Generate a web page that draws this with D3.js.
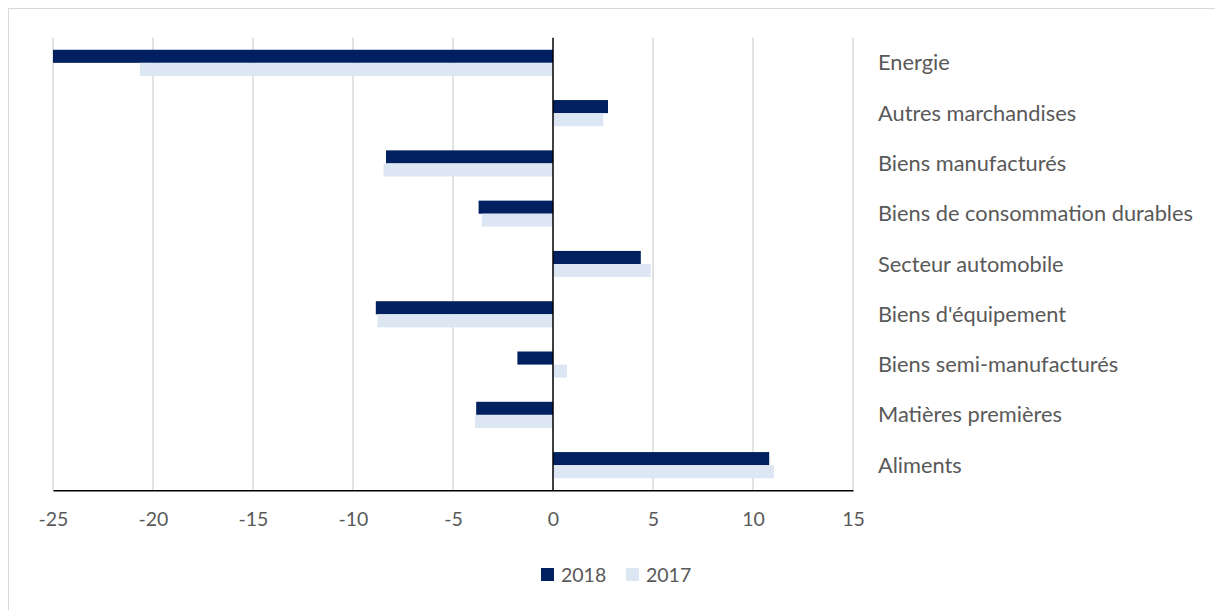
<!DOCTYPE html>
<html>
<head>
<meta charset="utf-8">
<script src="https://cdn.jsdelivr.net/npm/d3@7"></script>
<style>
  body { margin: 0; background: #fff; }
  svg text { font-family: Lato, "Open Sans", sans-serif; fill: #595959; }
</style>
</head>
<body>
<svg id="chart" width="1215" height="610"></svg>
<script>
// categories top to bottom
const categories = ["Energie", "Autres marchandises", "Biens manufacturés",
  "Biens de consommation durables", "Secteur automobile", "Biens d'équipement",
  "Biens semi-manufacturés", "Matières premières", "Aliments"];
const values2018 = [-25, 2.75, -8.35, -3.72, 4.39, -8.86, -1.78, -3.84, 10.81];
const values2017 = [-20.65, 2.52, -8.47, -3.56, 4.89, -8.78, 0.70, -3.90, 11.05];
const seriesNames = ["2018", "2017"];
const colors = {"2018": "#002060", "2017": "#dde7f4"};
const xTicks = [-25, -20, -15, -10, -5, 0, 5, 10, 15];

const svg = d3.select("#chart");

// outer border
svg.append("rect")
  .attr("x", 8.5).attr("y", 8.5)
  .attr("width", 1215).attr("height", 620)
  .attr("fill", "none").attr("stroke", "#d9d9d9");

const plot = {left: 53, right: 853, top: 37.7, bottom: 490.3};

const x = d3.scaleLinear().domain([-25, 15]).range([plot.left, plot.right]);
const y = d3.scaleBand().domain(categories).range([plot.top, plot.bottom]).paddingInner(0.48).paddingOuter(0.24);
const ySub = d3.scaleBand().domain(seriesNames).range([0, y.bandwidth()]);

// gridlines
svg.append("g")
  .selectAll("line")
  .data(xTicks.filter(d => d !== 0))
  .join("line")
  .attr("x1", d => x(d)).attr("x2", d => x(d))
  .attr("y1", plot.top).attr("y2", plot.bottom)
  .attr("stroke", "#d9d9d9").attr("stroke-width", 1.5);

// bars
const rows = categories.map((c, i) => ({cat: c, "2018": values2018[i], "2017": values2017[i]}));
const groups = svg.append("g")
  .selectAll("g")
  .data(rows)
  .join("g")
  .attr("transform", d => `translate(0,${y(d.cat)})`);

groups.selectAll("rect")
  .data(d => seriesNames.map(s => ({s: s, v: d[s]})))
  .join("rect")
  .attr("x", d => x(Math.min(0, d.v)))
  .attr("width", d => Math.abs(x(d.v) - x(0)))
  .attr("y", d => ySub(d.s))
  .attr("height", ySub.bandwidth())
  .attr("fill", d => colors[d.s]);

// zero axis
svg.append("line")
  .attr("x1", x(0)).attr("x2", x(0))
  .attr("y1", plot.top).attr("y2", plot.bottom)
  .attr("stroke", "#000").attr("stroke-width", 1.5);

// bottom axis
const xAxis = svg.append("g")
  .attr("transform", `translate(0,${plot.bottom})`)
  .call(d3.axisBottom(x).tickValues(xTicks).tickSize(0).tickPadding(22).tickFormat(d => String(d)));
xAxis.select(".domain").attr("stroke", "#000").attr("stroke-width", 1.5);
xAxis.selectAll("text").style("font-size", "19.5px").style("font-family", "Lato, sans-serif").attr("fill", "#595959");

// category labels on the right
svg.append("g")
  .selectAll("text")
  .data(categories)
  .join("text")
  .attr("x", 878)
  .attr("y", d => y(d) + y.bandwidth() / 2)
  .attr("dy", "0.35em")
  .style("font-size", "21.8px")
  .text(d => d);

// legend
const legend = svg.append("g").attr("transform", "translate(541,568)");
const li = legend.selectAll("g")
  .data(seriesNames)
  .join("g")
  .attr("transform", (d, i) => `translate(${i * 85},0)`);
li.append("rect").attr("width", 13).attr("height", 13).attr("fill", d => colors[d]);
li.append("text").attr("x", 20).attr("y", 6.5).attr("dy", "0.36em")
  .style("font-size", "19.5px").text(d => d);
</script>
</body>
</html>
